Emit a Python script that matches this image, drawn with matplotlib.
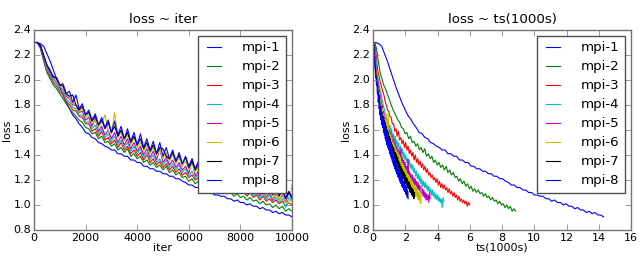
import numpy as np
import matplotlib
matplotlib.use('Agg')
import matplotlib.pyplot as plt

plt.style.use('classic')
plt.rcParams['font.size'] = 8
plt.rcParams['figure.facecolor'] = 'white'
plt.rcParams['savefig.facecolor'] = 'white'

# loss sampled every 125 iterations, 0..10000
iters = np.arange(0, 10001, 125)

loss_mpi1 = [2.30, 2.30, 2.29, 2.27, 2.21, 2.15, 2.08, 2.01, 1.94, 1.88,
             1.82, 1.77, 1.72, 1.69, 1.65, 1.62, 1.58, 1.57, 1.54, 1.53,
             1.50, 1.49, 1.47, 1.46, 1.44, 1.44, 1.41, 1.41, 1.39, 1.39,
             1.36, 1.36, 1.34, 1.34, 1.31, 1.31, 1.29, 1.29, 1.27, 1.27,
             1.25, 1.25, 1.23, 1.23, 1.21, 1.21, 1.19, 1.18, 1.16, 1.16,
             1.14, 1.14, 1.12, 1.12, 1.10, 1.10, 1.08, 1.08, 1.07, 1.07,
             1.05, 1.05, 1.03, 1.04, 1.02, 1.02, 1.00, 1.01, 0.99, 0.99,
             0.97, 0.98, 0.96, 0.96, 0.94, 0.95, 0.93, 0.94, 0.92, 0.92,
             0.905]
loss_mpi2 = [2.30, 2.30, 2.25, 2.15, 2.06, 2.01, 1.96, 1.93, 1.89, 1.85,
             1.81, 1.77, 1.74, 1.71, 1.68, 1.66, 1.62, 1.61, 1.57, 1.58,
             1.53, 1.55, 1.50, 1.51, 1.47, 1.49, 1.44, 1.46, 1.42, 1.45,
             1.39, 1.41, 1.37, 1.39, 1.34, 1.36, 1.32, 1.34, 1.30, 1.32,
             1.28, 1.31, 1.26, 1.28, 1.24, 1.26, 1.22, 1.23, 1.19, 1.21,
             1.17, 1.19, 1.15, 1.17, 1.13, 1.15, 1.11, 1.13, 1.10, 1.12,
             1.09, 1.10, 1.07, 1.09, 1.06, 1.07, 1.04, 1.06, 1.03, 1.04,
             1.01, 1.03, 1.00, 1.01, 0.98, 1.00, 0.97, 0.99, 0.95, 0.97,
             0.95]
loss_mpi3 = [2.30, 2.30, 2.26, 2.16, 2.07, 2.03, 1.98, 1.95, 1.91, 1.88,
             1.83, 1.80, 1.76, 1.75, 1.71, 1.70, 1.65, 1.65, 1.59, 1.61,
             1.55, 1.59, 1.52, 1.54, 1.49, 1.52, 1.46, 1.50, 1.44, 1.47,
             1.41, 1.44, 1.39, 1.42, 1.36, 1.40, 1.34, 1.37, 1.32, 1.35,
             1.30, 1.33, 1.28, 1.31, 1.26, 1.29, 1.24, 1.26, 1.22, 1.24,
             1.20, 1.22, 1.18, 1.21, 1.16, 1.19, 1.14, 1.17, 1.13, 1.16,
             1.12, 1.14, 1.10, 1.13, 1.09, 1.11, 1.07, 1.10, 1.06, 1.08,
             1.04, 1.07, 1.03, 1.05, 1.02, 1.04, 1.01, 1.03, 0.99, 1.02,
             1.00]
loss_mpi4 = [2.30, 2.30, 2.27, 2.17, 2.08, 2.04, 1.99, 1.96, 1.92, 1.90,
             1.85, 1.82, 1.78, 1.77, 1.72, 1.72, 1.66, 1.67, 1.61, 1.64,
             1.57, 1.61, 1.54, 1.57, 1.51, 1.55, 1.48, 1.52, 1.46, 1.50,
             1.43, 1.47, 1.41, 1.45, 1.38, 1.42, 1.36, 1.40, 1.34, 1.37,
             1.32, 1.36, 1.30, 1.33, 1.28, 1.32, 1.26, 1.29, 1.23, 1.27,
             1.21, 1.25, 1.19, 1.23, 1.17, 1.21, 1.15, 1.19, 1.14, 1.18,
             1.13, 1.16, 1.11, 1.15, 1.10, 1.13, 1.08, 1.12, 1.07, 1.10,
             1.05, 1.09, 1.04, 1.08, 1.03, 1.06, 1.02, 1.05, 0.98, 1.06,
             1.03]
loss_mpi5 = [2.30, 2.30, 2.27, 2.18, 2.10, 2.05, 2.01, 1.98, 1.94, 1.92,
             1.87, 1.85, 1.80, 1.80, 1.74, 1.75, 1.68, 1.70, 1.63, 1.69,
             1.59, 1.63, 1.56, 1.60, 1.53, 1.58, 1.50, 1.55, 1.48, 1.53,
             1.45, 1.50, 1.43, 1.47, 1.40, 1.45, 1.38, 1.43, 1.36, 1.45,
             1.34, 1.38, 1.32, 1.36, 1.30, 1.34, 1.28, 1.31, 1.25, 1.37,
             1.23, 1.27, 1.21, 1.25, 1.19, 1.24, 1.17, 1.22, 1.16, 1.21,
             1.15, 1.19, 1.13, 1.18, 1.12, 1.16, 1.10, 1.15, 1.09, 1.13,
             1.07, 1.12, 1.06, 1.10, 1.04, 1.09, 1.04, 1.08, 1.02, 1.10,
             1.05]
loss_mpi6 = [2.30, 2.30, 2.27, 2.18, 2.11, 2.06, 2.02, 1.99, 1.95, 1.93,
             1.88, 1.86, 1.81, 1.81, 1.75, 1.77, 1.70, 1.72, 1.65, 1.68,
             1.62, 1.66, 1.72, 1.59, 1.57, 1.74, 1.54, 1.58, 1.51, 1.56,
             1.48, 1.54, 1.46, 1.50, 1.43, 1.48, 1.41, 1.46, 1.39, 1.44,
             1.37, 1.42, 1.35, 1.40, 1.33, 1.38, 1.31, 1.35, 1.28, 1.33,
             1.26, 1.31, 1.24, 1.29, 1.22, 1.27, 1.20, 1.25, 1.19, 1.24,
             1.17, 1.22, 1.15, 1.21, 1.14, 1.19, 1.12, 1.17, 1.11, 1.16,
             1.09, 1.14, 1.07, 1.12, 1.05, 1.10, 1.04, 1.09, 1.02, 1.01,
             1.16]
loss_mpi7 = [2.30, 2.30, 2.28, 2.20, 2.12, 2.07, 2.03, 2.01, 1.96, 1.95,
             1.89, 1.87, 1.88, 1.80, 1.76, 1.79, 1.72, 1.74, 1.67, 1.71,
             1.64, 1.68, 1.61, 1.66, 1.58, 1.63, 1.55, 1.60, 1.53, 1.58,
             1.50, 1.55, 1.48, 1.53, 1.45, 1.50, 1.43, 1.48, 1.41, 1.46,
             1.45, 1.39, 1.37, 1.42, 1.35, 1.40, 1.33, 1.38, 1.30, 1.35,
             1.28, 1.33, 1.26, 1.31, 1.24, 1.29, 1.22, 1.27, 1.21, 1.26,
             1.19, 1.24, 1.17, 1.22, 1.16, 1.21, 1.14, 1.19, 1.13, 1.18,
             1.11, 1.16, 1.10, 1.14, 1.08, 1.13, 1.07, 1.12, 1.05, 1.10,
             1.07]
loss_mpi8 = [2.30, 2.30, 2.27, 2.19, 2.12, 2.08, 2.02, 2.02, 1.96, 1.97,
             1.89, 1.91, 1.82, 1.88, 1.77, 1.81, 1.72, 1.76, 1.68, 1.73,
             1.64, 1.70, 1.62, 1.68, 1.58, 1.67, 1.56, 1.63, 1.53, 1.61,
             1.51, 1.58, 1.48, 1.57, 1.46, 1.53, 1.44, 1.51, 1.41, 1.50,
             1.39, 1.46, 1.37, 1.44, 1.35, 1.42, 1.33, 1.39, 1.31, 1.37,
             1.29, 1.35, 1.27, 1.33, 1.25, 1.31, 1.23, 1.29, 1.22, 1.28,
             1.20, 1.26, 1.18, 1.24, 1.17, 1.23, 1.15, 1.21, 1.14, 1.19,
             1.12, 1.18, 1.11, 1.16, 1.09, 1.15, 1.08, 1.13, 1.06, 1.11,
             1.05]

labels = ['mpi-1', 'mpi-2', 'mpi-3', 'mpi-4', 'mpi-5', 'mpi-6', 'mpi-7', 'mpi-8']
losses = [loss_mpi1, loss_mpi2, loss_mpi3, loss_mpi4,
          loss_mpi5, loss_mpi6, loss_mpi7, loss_mpi8]
# total wall time of the 10000 iterations, in 1000s
ts_end = [14.3, 8.85, 6.0, 4.4, 3.55, 3.0, 2.6, 2.18]
colors = ['b', 'g', 'r', 'c', 'm', 'y', 'k', 'b']

fig = plt.figure(figsize=(6.4, 2.56), dpi=100)
ax1 = fig.add_axes([34/640., 26/256., 258/640., 200/256.])
ax2 = fig.add_axes([373/640., 26/256., 258/640., 200/256.])

for lab, ls, c in zip(labels, losses, colors):
    ax1.plot(iters, ls, color=c, lw=0.8, label=lab)
for lab, ls, te, c in zip(labels, losses, ts_end, colors):
    ax2.plot(iters / 10000. * te, ls, color=c, lw=0.8, label=lab)

ax1.set_xlim(0, 10000)
ax1.set_xticks(np.arange(0, 10001, 2000))
ax1.set_title('loss ~ iter')
ax1.set_xlabel('iter', labelpad=0)
ax2.set_xlim(0, 16)
ax2.set_xticks(np.arange(0, 17, 2))
ax2.set_title('loss ~ ts(1000s)')
ax2.set_xlabel('ts(1000s)', labelpad=0)

for ax in (ax1, ax2):
    ax.set_ylim(0.8, 2.4)
    ax.set_yticks(np.arange(0.8, 2.41, 0.2))
    ax.set_ylabel('loss', labelpad=1)
    for s in ax.spines.values():
        s.set_edgecolor('0.45')
    ax.tick_params(color='0.45', labelcolor='black', pad=2)
    leg = ax.legend(loc='upper right', handlelength=1.6, handletextpad=1.3,
                    borderpad=0.4, labelspacing=0.45, borderaxespad=0.45)
    leg.get_frame().set_edgecolor('0.3')

fig.savefig('out.png', dpi=100)
